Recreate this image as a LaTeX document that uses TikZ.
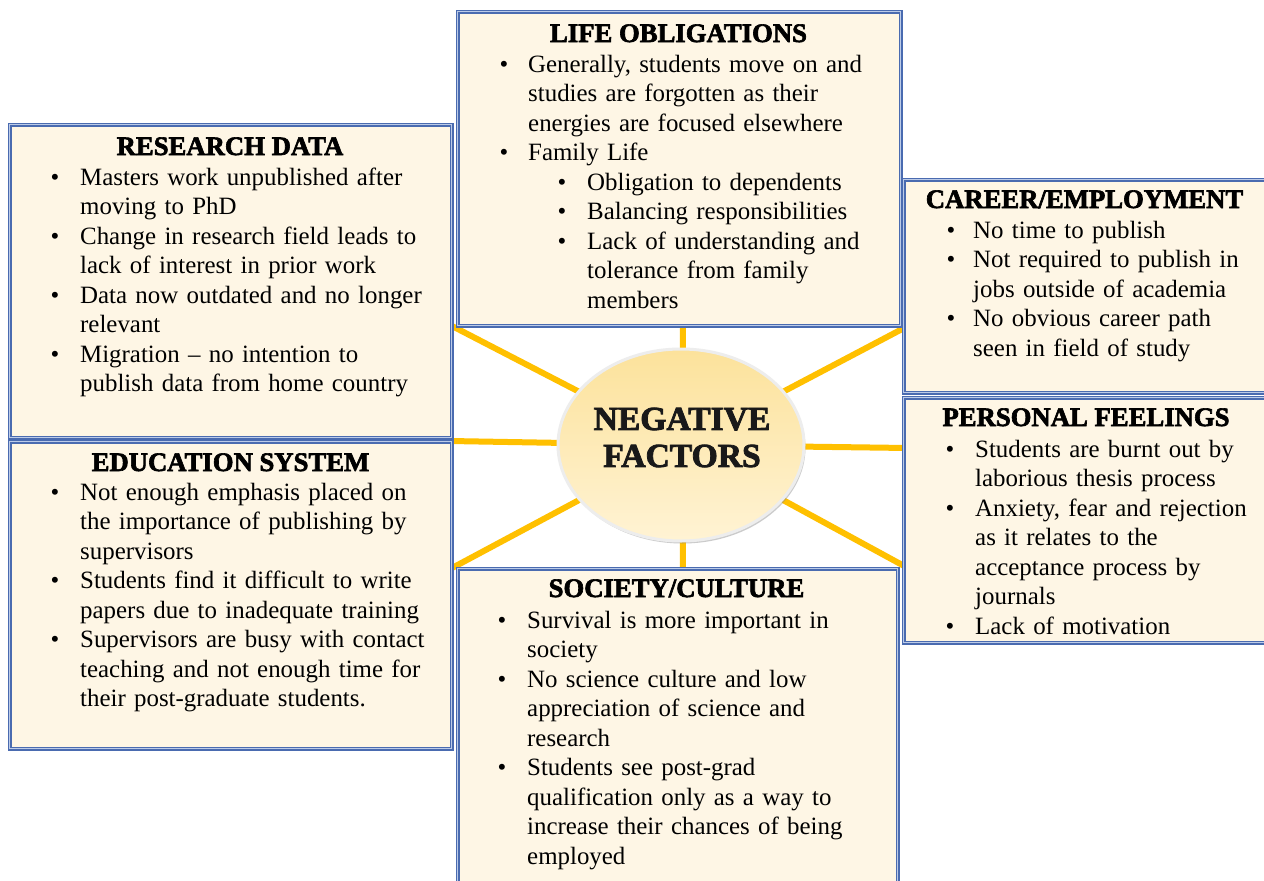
\documentclass[tikz,border=0pt]{standalone}
\usepackage{fontspec}
\setmainfont{Liberation Serif}
\newfontfamily\hfont[FakeBold=2.4]{Liberation Serif Bold}
\usetikzlibrary{shapes.geometric,shadows}
\definecolor{boxfill}{HTML}{FEF6E5}
\definecolor{bdr}{HTML}{4A6BB0}
\definecolor{bdrin}{HTML}{BCCBE8}
\definecolor{rayc}{HTML}{FFC000}
\definecolor{elltop}{HTML}{FCE29B}
\definecolor{ellbot}{HTML}{FFF3D4}
\definecolor{ellrim}{HTML}{EDEDED}
\newcommand{\setbt}{\fontsize{24.9}{29.5}\selectfont}
\newcommand{\bl}[3]{\par\hangindent=#2pt\hangafter=1\noindent\hspace*{#1pt}\makebox[\dimexpr#2pt-#1pt\relax][l]{\rule{0pt}{21pt}\textbullet}#3}
\tikzset{
  boxst/.style={draw=bdr, line width=1.2pt, double=bdrin, double distance=1.5pt, fill=boxfill, inner sep=0pt, anchor=north west},
  hd/.style={font=\hfont\fontsize{26.7}{30}\selectfont, inner sep=0pt, anchor=base},
  bt/.style={font=\setbt, text width=430pt, align=left, inner sep=0pt, anchor=north west},
  rayst/.style={draw=rayc, line width=6pt},
}
\begin{document}
\begin{tikzpicture}[x=1pt,y=-1pt]
\useasboundingbox (0,0) rectangle (1264,881);
\fill[white] (0,0) rectangle (1264,881);
% ray ends
\coordinate (cc) at (682,445);
\coordinate (eU) at (683,320);
\coordinate (eD) at (683,572);
\coordinate (eL) at (450,441);
\coordinate (eR) at (908,448);
\coordinate (eUL) at (452,326);
\coordinate (eUR) at (906,327);
\coordinate (eLL) at (452,568);
\coordinate (eLR) at (906,567);
\foreach \e in {eU,eD,eL,eR,eUL,eUR,eLL,eLR} \draw[rayst] (cc) -- (\e);
% boxes
\node[boxst, minimum width=442, minimum height=313] (rd) at (9,124) {};
\node[boxst, minimum width=442, minimum height=307] (es) at (9,441) {};
\node[boxst, minimum width=443, minimum height=314] (lo) at (457,11) {};
\node[boxst, minimum width=364, minimum height=213] (ce) at (903,179) {};
\node[boxst, minimum width=364, minimum height=245] (pf) at (903,397) {};
\node[boxst, minimum width=440, minimum height=330] (sc) at (457,568) {};
% centre
\node[ellipse, minimum width=246, minimum height=192, draw=ellrim, line width=3pt,
      top color=elltop, bottom color=ellbot,
      drop shadow={shadow xshift=1.5pt, shadow yshift=-2.5pt, fill=black!45, opacity=0.45}] (neg) at (681,445) {};
\node[font=\hfont\fontsize{33.6}{37}\selectfont, align=center, inner sep=0pt, text=black!90] (negt) at (682,437.5) {NEGATIVE\\FACTORS};
% headings
\node[hd] (loh) at (678.5,42) {LIFE OBLIGATIONS};
\node[hd] (rdh) at (230,155) {RESEARCH DATA};
\node[hd] (ceh) at (1084.5,208) {CAREER/EMPLOYMENT};
\node[hd] (pfh) at (1086,426) {PERSONAL FEELINGS};
\node[hd] (esh) at (230.5,471) {EDUCATION SYSTEM};
\node[hd] (sch) at (676.5,597) {SOCIETY/CULTURE};
% bullet texts
\node[bt] (lob) at (499.5,42.5) {\setbt
\bl{0}{28.5}{Generally, students move on and\newline studies are forgotten as their\newline energies are focused elsewhere}
\bl{0}{28.5}{Family Life}
\bl{58}{87.5}{Obligation to dependents}
\bl{58}{87.5}{Balancing responsibilities}
\bl{58}{87.5}{Lack of understanding and\newline tolerance from family\newline members}\par};
\node[bt] (rdb) at (50.5,155.5) {\setbt
\bl{0}{29.5}{Masters work unpublished after\newline moving to PhD}
\bl{0}{29.5}{Change in research field leads to\newline lack of interest in prior work}
\bl{0}{29.5}{Data now outdated and no longer\newline relevant}
\bl{0}{29.5}{Migration -- no intention to\newline publish data from home country}\par};
\node[bt] (ceb) at (946.5,208.5) {\setbt
\bl{0}{26.5}{No time to publish}
\bl{0}{26.5}{Not required to publish in\newline jobs outside of academia}
\bl{0}{26.5}{No obvious career path\newline seen in field of study}\par};
\node[bt] (pfb) at (945.5,427.5) {\setbt
\bl{0}{29.5}{Students are burnt out by\newline laborious thesis process}
\bl{0}{29.5}{Anxiety, fear and rejection\newline as it relates to the\newline acceptance process by\newline journals}
\bl{0}{29.5}{Lack of motivation}\par};
\node[bt] (esb) at (50.5,470.5) {\setbt
\bl{0}{29.5}{Not enough emphasis placed on\newline the importance of publishing by\newline supervisors}
\bl{0}{29.5}{Students find it difficult to write\newline papers due to inadequate training}
\bl{0}{29.5}{Supervisors are busy with contact\newline teaching and not enough time for\newline their post-graduate students.}\par};
\node[bt] (scb) at (497.5,598.5) {\setbt
\bl{0}{29.5}{Survival is more important in\newline society}
\bl{0}{29.5}{No science culture and low\newline appreciation of science and\newline research}
\bl{0}{29.5}{Students see post-grad\newline qualification only as a way to\newline increase their chances of being\newline employed}\par};
\end{tikzpicture}
\end{document}
